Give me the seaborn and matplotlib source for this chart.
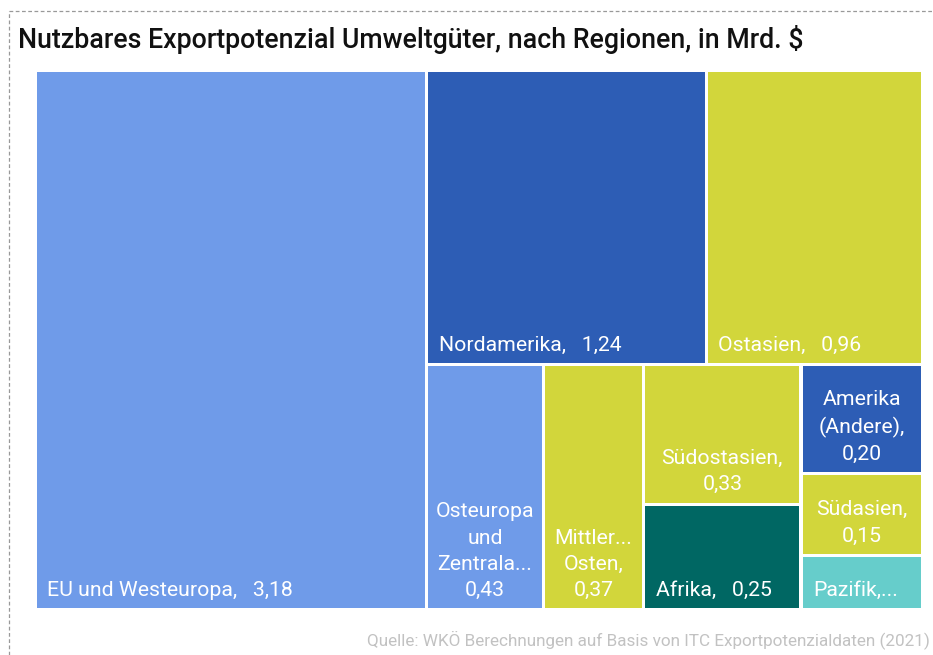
import matplotlib
matplotlib.use("Agg")
import matplotlib.pyplot as plt
from matplotlib.patches import Rectangle
from matplotlib.lines import Line2D
import seaborn as sns

# data
regions = ["EU und Westeuropa", "Nordamerika", "Ostasien", "Osteuropa und Zentralasien",
           "Mittlerer Osten", "Südostasien", "Afrika", "Amerika (Andere)", "Südasien", "Pazifik"]
values = [3.18, 1.24, 0.96, 0.43, 0.37, 0.33, 0.25, 0.20, 0.15, 0.10]
labels = ["EU und Westeuropa,   3,18", "Nordamerika,   1,24", "Ostasien,   0,96",
          "Osteuropa\nund\nZentrala...\n0,43", "Mittler...\nOsten,\n0,37", "Südostasien,\n0,33",
          "Afrika,   0,25", "Amerika\n(Andere),\n0,20", "Südasien,\n0,15", "Pazifik,..."]
colors = ["#6f9be9", "#2d5db5", "#d2d63b", "#6f9be9", "#d2d63b", "#d2d63b",
          "#006763", "#2d5db5", "#d2d63b", "#66cdcb"]

title = "Nutzbares Exportpotenzial Umweltgüter, nach Regionen, in Mrd. $"
source = "Quelle: WKÖ Berechnungen auf Basis von ITC Exportpotenzialdaten (2021)"


def squarify(vals, x0, y0, x1, y1, ratio=0.78):
    # d3-style squarified layout
    rects = []
    total = sum(vals)
    i0 = 0
    n = len(vals)
    while i0 < n:
        dx, dy = x1 - x0, y1 - y0
        i1 = i0 + 1
        s = vals[i0]
        vmin = vmax = s
        alpha = max(dy / dx, dx / dy) / (total * ratio)
        beta = s * s * alpha
        best = max(vmax / beta, beta / vmin)
        while i1 < n:
            v = vals[i1]
            s2 = s + v
            mn, mx = min(vmin, v), max(vmax, v)
            beta = s2 * s2 * alpha
            r = max(mx / beta, beta / mn)
            if r > best:
                break
            s, vmin, vmax, best = s2, mn, mx, r
            i1 += 1
        row = vals[i0:i1]
        if dx < dy:
            h = dy * s / total if i1 < n else dy
            x = x0
            for v in row:
                w = dx * v / s
                rects.append((x, y0, w, h))
                x += w
            y0 += h
        else:
            w = dx * s / total if i1 < n else dx
            y = y0
            for v in row:
                h = dy * v / s
                rects.append((x0, y, w, h))
                y += h
            x0 += w
        total -= s
        i0 = i1
    return rects


sns.set_theme(style="white")
plt.rcParams["font.family"] = ["Roboto", "DejaVu Sans"]

W, H = 888, 540
fig = plt.figure(figsize=(9.33, 6.55), dpi=100)
ax = fig.add_axes([35 / 933, 45 / 655, W / 933, H / 655])
ax.set_xlim(0, W)
ax.set_ylim(H, 0)
ax.axis("off")

gap = 1.6
rects = squarify(values, 0, 0, W, H)
for (x, y, w, h), lab, c in zip(rects, labels, colors):
    ax.add_patch(Rectangle((x + gap, y + gap), w - 2 * gap, h - 2 * gap,
                           facecolor=c, edgecolor="none"))
    if "\n" in lab:
        ax.text(x + w / 2, y + h - 10, lab, color="white", fontsize=15.3,
                ha="center", va="bottom", linespacing=1.48, multialignment="center")
    else:
        ax.text(x + 12, y + h - 10, lab, color="white", fontsize=15.3,
                ha="left", va="bottom")

fig.text(18 / 933, 1 - 40 / 655, title, fontsize=19.3, fontweight="medium",
         color="#111111", ha="left", va="center")
fig.text(930 / 933, 1 - 640 / 655, source, fontsize=12.3, color="#c2c2c2",
         ha="right", va="center")

fig.add_artist(Line2D([9 / 933, 1], [1 - 11 / 655] * 2, transform=fig.transFigure,
                      color="#999999", lw=0.9, ls=(0, (3, 2))))
fig.add_artist(Line2D([9 / 933] * 2, [0, 1 - 11 / 655], transform=fig.transFigure,
                      color="#999999", lw=0.9, ls=(0, (3, 2))))

fig.savefig("out.png", dpi=100)
